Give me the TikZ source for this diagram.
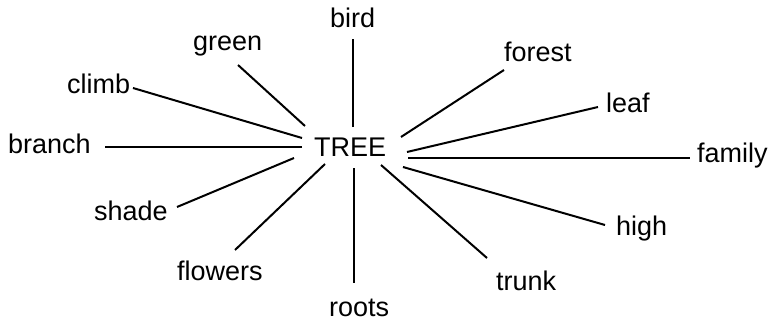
\documentclass[tikz,border=0pt]{standalone}
\usepackage{fontspec}
\setmainfont{Liberation Sans}
\begin{document}
\begin{tikzpicture}[x=1pt,y=-1pt,
  word/.style={anchor=base west,inner sep=0pt,font=\fontsize{27}{31}\selectfont},
  link/.style={line width=2pt}]
\useasboundingbox (0,0) rectangle (769,321);
% words
\node[word] (tree)    at (314,157) {TREE};
\node[word] (bird)    at (330,28)  {bird};
\node[word] (green)   at (193,51)  {green};
\node[word] (climb)   at (67,93)   {climb};
\node[word] (branch)  at (8,153)   {branch};
\node[word] (shade)   at (94,220)  {shade};
\node[word] (flowers) at (177,280) {flowers};
\node[word] (roots)   at (329,316) {roots};
\node[word] (trunk)   at (496,290) {trunk};
\node[word] (high)    at (616,235) {high};
\node[word] (family)  at (697,162) {family};
\node[word] (leaf)    at (606,113) {leaf};
\node[word] (forest)  at (504,62)  {forest};
% line end points
\coordinate (tBird)    at (353,127);
\coordinate (eBird)    at (353,39);
\coordinate (tGreen)   at (305,126);
\coordinate (eGreen)   at (238,65);
\coordinate (tClimb)   at (302,138);
\coordinate (eClimb)   at (133,88);
\coordinate (tBranch)  at (302,147);
\coordinate (eBranch)  at (105,147);
\coordinate (tShade)   at (294,158);
\coordinate (eShade)   at (177,207);
\coordinate (tFlowers) at (325,164);
\coordinate (eFlowers) at (235,250);
\coordinate (tRoots)   at (354,168);
\coordinate (eRoots)   at (354,283);
\coordinate (tTrunk)   at (381,165);
\coordinate (eTrunk)   at (487,258);
\coordinate (tHigh)    at (403,167);
\coordinate (eHigh)    at (605,225);
\coordinate (tFamily)  at (408,158);
\coordinate (eFamily)  at (690,158);
\coordinate (tLeaf)    at (407,152);
\coordinate (eLeaf)    at (598,107);
\coordinate (tForest)  at (401,137);
\coordinate (eForest)  at (504,70);
% connectors
\draw[link] (tBird) -- (eBird);
\draw[link] (tGreen) -- (eGreen);
\draw[link] (tClimb) -- (eClimb);
\draw[link] (tBranch) -- (eBranch);
\draw[link] (tShade) -- (eShade);
\draw[link] (tFlowers) -- (eFlowers);
\draw[link] (tRoots) -- (eRoots);
\draw[link] (tTrunk) -- (eTrunk);
\draw[link] (tHigh) -- (eHigh);
\draw[link] (tFamily) -- (eFamily);
\draw[link] (tLeaf) -- (eLeaf);
\draw[link] (tForest) -- (eForest);
\end{tikzpicture}
\end{document}
